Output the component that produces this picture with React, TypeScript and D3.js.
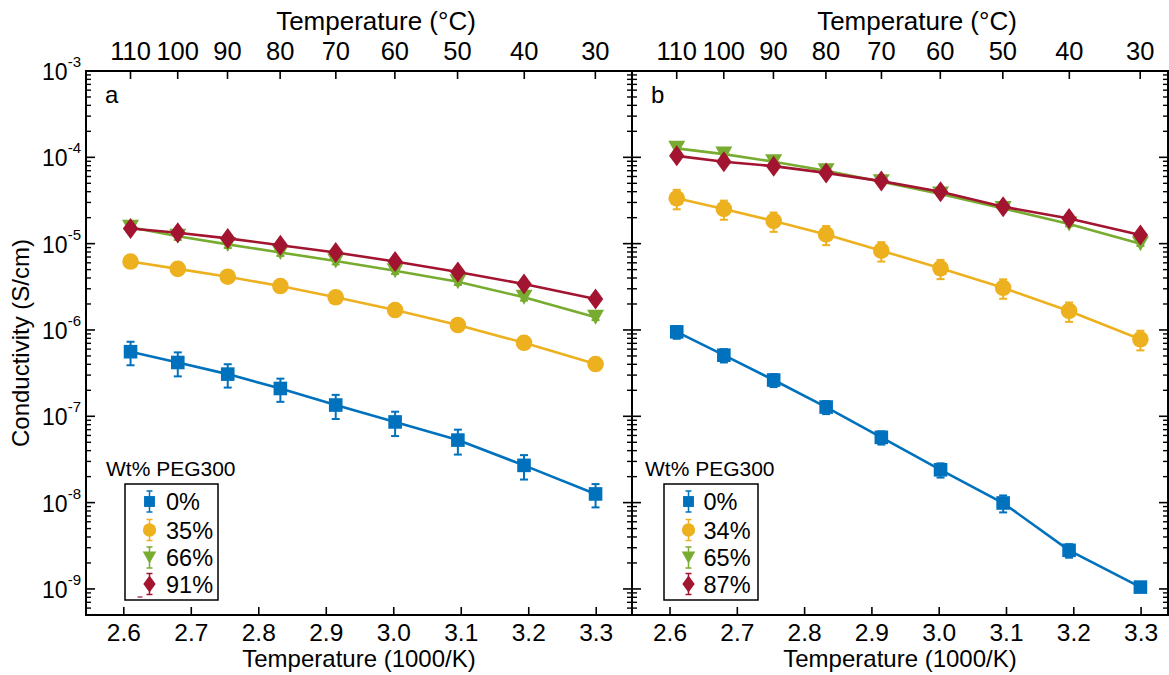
import React from 'react';
import * as d3 from 'd3';

// x positions (1000/K) of the measured temperatures
const INV_T = [2.610, 2.680, 2.754, 2.832, 2.914, 3.002, 3.095, 3.193, 3.299];
const TEMP_C_TICKS = [110, 100, 90, 80, 70, 60, 50, 40, 30];
const INV_T_TICKS = [2.6, 2.7, 2.8, 2.9, 3.0, 3.1, 3.2, 3.3];
const DECADES = [-9, -8, -7, -6, -5, -4, -3];

// Panel a
const A_LABELS = ['0%', '35%', '66%', '91%'];
const A_PEG0 = [5.6e-7, 4.2e-7, 3.08e-7, 2.1e-7, 1.35e-7, 8.6e-8, 5.3e-8, 2.7e-8, 1.26e-8];
const A_PEG0_ERR = [1.7e-7, 1.3e-7, 0.93e-7, 0.63e-7, 0.42e-7, 0.27e-7, 0.17e-7, 0.085e-7, 0.38e-8];
const A_PEG35 = [6.2e-6, 5.1e-6, 4.14e-6, 3.23e-6, 2.39e-6, 1.70e-6, 1.14e-6, 7.1e-7, 4.03e-7];
const A_PEG35_ERR = [0.3e-6, 0.25e-6, 0.2e-6, 0.16e-6, 0.12e-6, 0.08e-6, 0.06e-6, 0.35e-7, 0.2e-7];
const A_PEG66 = [1.55e-5, 1.22e-5, 9.8e-6, 7.9e-6, 6.3e-6, 4.85e-6, 3.62e-6, 2.39e-6, 1.40e-6];
const A_PEG66_ERR = [0.15e-5, 0.12e-5, 0.9e-6, 0.7e-6, 0.55e-6, 0.4e-6, 0.3e-6, 0.2e-6, 0.1e-6];
const A_PEG91 = [1.50e-5, 1.34e-5, 1.15e-5, 9.6e-6, 7.9e-6, 6.2e-6, 4.7e-6, 3.4e-6, 2.28e-6];
const A_PEG91_ERR = [0.1e-5, 0.1e-5, 0.08e-5, 0.6e-6, 0.5e-6, 0.4e-6, 0.3e-6, 0.2e-6, 0.15e-6];

// Panel b
const B_LABELS = ['0%', '34%', '65%', '87%'];
const B_PEG0 = [9.5e-7, 5.1e-7, 2.63e-7, 1.28e-7, 5.7e-8, 2.4e-8, 9.9e-9, 2.8e-9, 1.05e-9];
const B_PEG0_ERR = [1.6e-7, 0.9e-7, 0.45e-7, 0.22e-7, 1.0e-8, 0.45e-8, 2.2e-9, 0.5e-9, 0.1e-9];
const B_PEG34 = [3.35e-5, 2.52e-5, 1.83e-5, 1.28e-5, 8.3e-6, 5.18e-6, 3.08e-6, 1.66e-6, 7.8e-7];
const B_PEG34_ERR = [0.85e-5, 0.63e-5, 0.46e-5, 0.32e-5, 2.1e-6, 1.3e-6, 0.78e-6, 0.42e-6, 2.0e-7];
const B_PEG65 = [1.27e-4, 1.09e-4, 8.9e-5, 7.0e-5, 5.2e-5, 3.76e-5, 2.56e-5, 1.69e-5, 1.0e-5];
const B_PEG65_ERR = [0.08e-4, 0.07e-4, 0.5e-5, 0.4e-5, 0.3e-5, 0.2e-5, 0.15e-5, 0.1e-5, 0.06e-5];
const B_PEG87 = [1.04e-4, 8.9e-5, 7.9e-5, 6.6e-5, 5.3e-5, 4.0e-5, 2.68e-5, 1.96e-5, 1.26e-5];
const B_PEG87_ERR = [0.08e-4, 0.6e-5, 0.5e-5, 0.4e-5, 0.3e-5, 0.2e-5, 0.15e-5, 0.12e-5, 0.08e-5];

const COLORS = ['#0072BD', '#EDB120', '#77AC30', '#A2142F'];
const SHAPES = ['square', 'circle', 'triangle', 'diamond'];

const FONT = '"Liberation Sans", Arial, Helvetica, sans-serif';

type Series = { label: string; values: number[]; errs: number[]; color: string; shape: string };

const seriesA: Series[] = [A_PEG0, A_PEG35, A_PEG66, A_PEG91].map((v, i) => ({
  label: A_LABELS[i], values: v, errs: [A_PEG0_ERR, A_PEG35_ERR, A_PEG66_ERR, A_PEG91_ERR][i], color: COLORS[i], shape: SHAPES[i],
}));
const seriesB: Series[] = [B_PEG0, B_PEG34, B_PEG65, B_PEG87].map((v, i) => ({
  label: B_LABELS[i], values: v, errs: [B_PEG0_ERR, B_PEG34_ERR, B_PEG65_ERR, B_PEG87_ERR][i], color: COLORS[i], shape: SHAPES[i],
}));

const TOP = 71;
const BOTTOM = 615;
const Y_DOMAIN: [number, number] = [Math.pow(10, -9.302), 1e-3];

function Marker({ shape, x, y, color, scale = 1 }: { shape: string; x: number; y: number; color: string; scale?: number }) {
  const s = scale;
  if (shape === 'square') return <rect x={x - 6.8 * s} y={y - 6.8 * s} width={13.6 * s} height={13.6 * s} fill={color} />;
  if (shape === 'circle') return <circle cx={x} cy={y} r={8.3 * s} fill={color} />;
  if (shape === 'triangle')
    return <path d={`M${x - 8.5 * s},${y - 7.5 * s}L${x + 8.5 * s},${y - 7.5 * s}L${x},${y + 7.5 * s}Z`} fill={color} />;
  return <path d={`M${x},${y - 10.5 * s}L${x + 7.7 * s},${y}L${x},${y + 10.5 * s}L${x - 7.7 * s},${y}Z`} fill={color} />;
}

function Panel({ left, right, domain, series, letter, showYLabels, legend, rightTicks, dash }: {
  left: number; right: number; domain: [number, number]; series: Series[]; letter: string; showYLabels: boolean;
  legend: { tx: number; bx: number; bw: number; mx: number; lx: number }; rightTicks: boolean; dash?: boolean;
}) {
  const x = d3.scaleLinear().domain(domain).range([left, right]);
  const y = d3.scaleLog().domain(Y_DOMAIN).range([BOTTOM, TOP]);
  const minor: number[] = [];
  for (let d = -10; d <= -3; d++) for (let k = 2; k <= 9; k++) {
    const v = k * Math.pow(10, d);
    if (v >= Y_DOMAIN[0] && v <= Y_DOMAIN[1]) minor.push(v);
  }
  const line = d3.line<number>().x((_, i) => x(INV_T[i])).y((v) => y(v));
  const cx = (left + right) / 2;
  const rowY = [501.5, 530, 557.5, 584];
  return (
    <g>
      {/* series */}
      {series.map((s, si) => (
        <g key={si}>
          <path d={line(s.values) || ''} fill="none" stroke={s.color} strokeWidth={2.6} />
          {s.values.map((v, i) => {
            const px = x(INV_T[i]);
            const y1 = y(v + s.errs[i]);
            const y0 = y(Math.max(v - s.errs[i], 1e-12));
            return (
              <g key={i}>
                <line x1={px} x2={px} y1={y0} y2={y1} stroke={s.color} strokeWidth={2} />
                <line x1={px - 4} x2={px + 4} y1={y0} y2={y0} stroke={s.color} strokeWidth={2} />
                <line x1={px - 4} x2={px + 4} y1={y1} y2={y1} stroke={s.color} strokeWidth={2} />
                <Marker shape={s.shape} x={px} y={y(v)} color={s.color} />
              </g>
            );
          })}
        </g>
      ))}
      {/* frame */}
      <rect x={left} y={TOP} width={right - left} height={BOTTOM - TOP} fill="none" stroke="#000" strokeWidth={2} />
      {/* y ticks */}
      {DECADES.map((d) => (
        <g key={d}>
          <line x1={left} x2={left + 9} y1={y(Math.pow(10, d))} y2={y(Math.pow(10, d))} stroke="#000" strokeWidth={1.6} />
          {rightTicks && <line x1={right} x2={right - 9} y1={y(Math.pow(10, d))} y2={y(Math.pow(10, d))} stroke="#000" strokeWidth={1.6} />}
          {showYLabels && (
            <text x={left - 5} y={y(Math.pow(10, d)) + 9} textAnchor="end" fontSize={23} fontFamily={FONT}>
              <tspan>10</tspan>
              <tspan dy={-13} fontSize={15}>{String(d)}</tspan>
            </text>
          )}
        </g>
      ))}
      {minor.map((v, i) => (
        <g key={i}>
          <line x1={left} x2={left + 5} y1={y(v)} y2={y(v)} stroke="#000" strokeWidth={1.4} />
          {rightTicks && <line x1={right} x2={right - 5} y1={y(v)} y2={y(v)} stroke="#000" strokeWidth={1.4} />}
        </g>
      ))}
      {/* bottom ticks */}
      {INV_T_TICKS.map((t) => (
        <g key={t}>
          <line x1={x(t)} x2={x(t)} y1={BOTTOM} y2={BOTTOM - 8} stroke="#000" strokeWidth={1.6} />
          <text x={x(t)} y={BOTTOM + 26} textAnchor="middle" fontSize={24.5} fontFamily={FONT}>{t.toFixed(1)}</text>
        </g>
      ))}
      <text x={cx} y={BOTTOM + 52} textAnchor="middle" fontSize={24} fontFamily={FONT}>Temperature (1000/K)</text>
      {/* top ticks (Celsius) */}
      {TEMP_C_TICKS.map((c) => {
        const px = x(1000 / (c + 273.15));
        return (
          <g key={c}>
            <line x1={px} x2={px} y1={TOP} y2={TOP + 8} stroke="#000" strokeWidth={1.6} />
            <text x={px} y={TOP - 11} textAnchor="middle" fontSize={25.5} fontFamily={FONT}>{c}</text>
          </g>
        );
      })}
      <text x={cx + 17} y={TOP - 41} textAnchor="middle" fontSize={26} fontFamily={FONT}>Temperature (°C)</text>
      <text x={left + 19} y={TOP + 32} fontSize={24} fontFamily={FONT}>{letter}</text>
      {/* legend */}
      <text x={legend.tx} y={476} fontSize={21} fontFamily={FONT}>Wt% PEG300</text>
      <rect x={legend.bx} y={484} width={legend.bw} height={116} fill="#fff" stroke="#000" strokeWidth={1.5} />
      {series.map((s, i) => (
        <g key={i}>
          <line x1={legend.mx} x2={legend.mx} y1={rowY[i] - 10.5} y2={rowY[i] + 10.5} stroke={s.color} strokeWidth={1.5} />
          <line x1={legend.mx - 3} x2={legend.mx + 3} y1={rowY[i] - 10.5} y2={rowY[i] - 10.5} stroke={s.color} strokeWidth={1.5} />
          <line x1={legend.mx - 3} x2={legend.mx + 3} y1={rowY[i] + 10.5} y2={rowY[i] + 10.5} stroke={s.color} strokeWidth={1.5} />
          <Marker shape={s.shape} x={legend.mx} y={rowY[i]} color={s.color} scale={0.8} />
          <text x={legend.lx} y={rowY[i] + 8.5} fontSize={23.5} fontFamily={FONT}>{s.label}</text>
        </g>
      ))}
      {dash && <line x1={legend.mx - 12} x2={legend.mx - 7} y1={597} y2={597} stroke={COLORS[3]} strokeWidth={1.2} />}
    </g>
  );
}

export default function App() {
  return (
    <svg width={1169} height={675} style={{ position: 'absolute', left: 0, top: 0, background: '#fff' }}>
      <rect x={0} y={0} width={1169} height={675} fill="#fff" />
      <Panel left={86} right={632} domain={[2.544, 3.353]} series={seriesA} letter="a" showYLabels
        legend={{ tx: 106, bx: 125, bw: 93, mx: 149.5, lx: 166 }} rightTicks dash />
      <Panel left={632} right={1168} domain={[2.5435, 3.340]} series={seriesB} letter="b" showYLabels={false}
        legend={{ tx: 645, bx: 664, bw: 94, mx: 688.5, lx: 703.5 }} rightTicks />
      <text transform="translate(29,343) rotate(-90)" textAnchor="middle" fontSize={24} fontFamily={FONT}>Conductivity (S/cm)</text>
    </svg>
  );
}
